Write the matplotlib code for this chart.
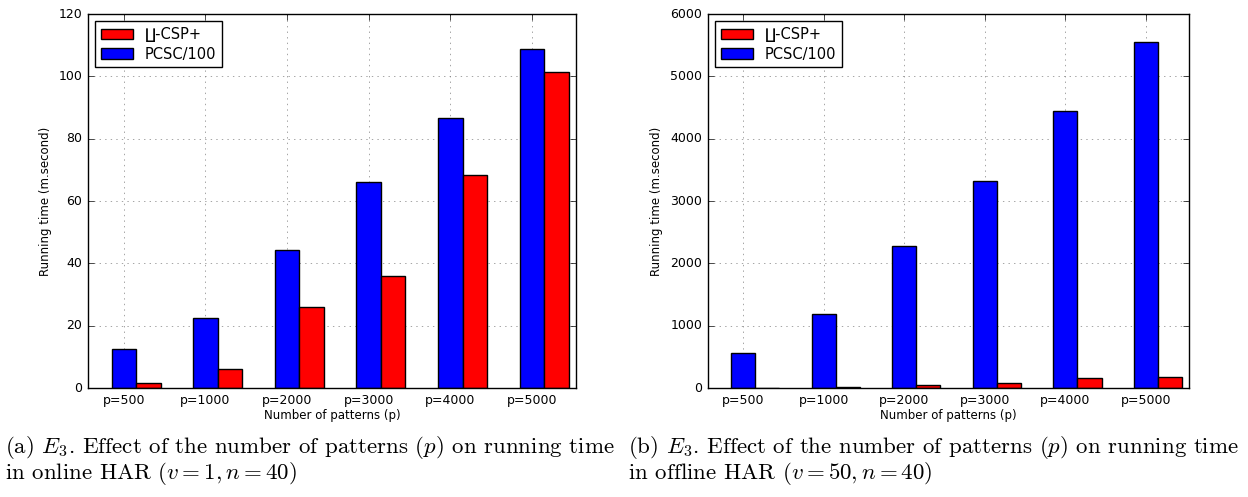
import numpy as np
import matplotlib.pyplot as plt

plt.style.use('classic')
plt.rcParams['mathtext.fontset'] = 'cm'

# ====== data ======
labels = ['p=500', 'p=1000', 'p=2000', 'p=3000', 'p=4000', 'p=5000']

# (a) online HAR
online_pcsc = [12.5, 22.6, 44.3, 66.0, 86.7, 108.7]
online_csp = [1.8, 6.0, 26.2, 36.0, 68.5, 101.4]

# (b) offline HAR
offline_pcsc = [570, 1190, 2280, 3330, 4440, 5550]
offline_csp = [10, 22, 50, 80, 160, 180]

ind = np.arange(len(labels))
w = 0.3

fig = plt.figure(figsize=(12.48, 4.97), dpi=100, facecolor='white')
ax1 = fig.add_axes([0.0705, 0.219, 0.391, 0.7525])
ax2 = fig.add_axes([0.567, 0.219, 0.386, 0.7525])


def draw(ax, pcsc, csp, ymax, step):
    ax.bar(ind - w / 2, pcsc, w, align='edge', color='blue', edgecolor='black',
           label='PCSC/100', zorder=2)
    ax.bar(ind + w / 2, csp, w, align='edge', color='red', edgecolor='black',
           label='\u2210-CSP+', zorder=2)
    ax.set_xlim(-0.44, 5.54)
    ax.set_ylim(0, ymax)
    ax.set_yticks(np.arange(0, ymax + 1, step))
    ax.set_xticks(ind)
    ax.set_xticklabels(labels)
    ax.tick_params(labelsize=9)
    ax.grid(True, linestyle=':', color='gray', zorder=0)
    ax.set_axisbelow(True)
    ax.set_xlabel('Number of patterns (p)', fontsize=8.5, labelpad=2)
    ax.set_ylabel('Running time (m.second)', fontsize=8.5)
    h, l = ax.get_legend_handles_labels()
    ax.legend(h[::-1], l[::-1], loc='upper left', fontsize=10.5, borderaxespad=0.5,
              handlelength=2.2, labelspacing=0.3, borderpad=0.4)


draw(ax1, online_pcsc, online_csp, 120, 20)
draw(ax2, offline_pcsc, offline_csp, 6000, 1000)

cap = dict(fontsize=16.5, family='cmr10', va='baseline')
fig.text(0.004, 0.088, r'(a) $E_3$. Effect of the number of patterns $(p)$ on running time', **cap)
fig.text(0.004, 0.036, r'in online HAR $(v=1, n=40)$', **cap)
fig.text(0.503, 0.088, r'(b) $E_3$. Effect of the number of patterns $(p)$ on running time', **cap)
fig.text(0.503, 0.036, r'in offline HAR $(v=50, n=40)$', **cap)

fig.savefig('out.png', dpi=100, facecolor='white')
